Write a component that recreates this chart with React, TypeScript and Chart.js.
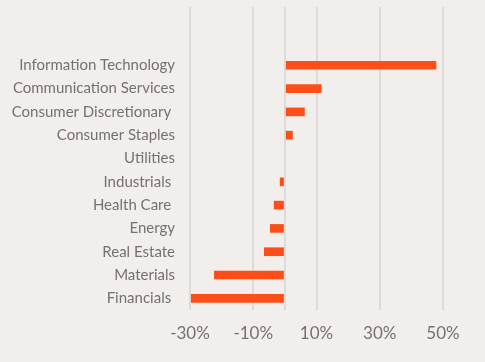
import { useEffect, useRef } from "react";
import { Chart, registerables } from "chart.js";

Chart.register(...registerables);

const categories = [
  "",
  "",
  "Information Technology",
  "Communication Services",
  "Consumer Discretionary ",
  "Consumer Staples",
  "Utilities",
  "Industrials ",
  "Health Care ",
  "Energy",
  "Real Estate",
  "Materials",
  "Financials ",
];
const returns: (number | null)[] = [null, null, 47.9, 11.6, 6.3, 2.5, 0, -1.6, -3.5, -4.7, -6.6, -22.4, -29.7];
const xTickValues = [-30, -10, 0, 10, 30, 50];
const xMin = -30;
const xMax = 50;

const BG = "#f1eeeb";
const TEXT = "#767171";
const FONT = "Lato";

export default function App() {
  const ref = useRef<HTMLCanvasElement | null>(null);

  useEffect(() => {
    document.body.style.margin = "0";
    document.body.style.background = BG;
    const canvas = ref.current;
    if (!canvas) return;
    const bgPlugin = {
      id: "bg",
      beforeDraw(chart: any) {
        const c = chart.ctx;
        c.save();
        c.fillStyle = BG;
        c.fillRect(0, 0, chart.width, chart.height);
        c.restore();
      },
    };
    const chart = new Chart(canvas, {
      type: "bar",
      data: {
        labels: categories,
        datasets: [
          {
            data: returns as any,
            backgroundColor: "#fd4e17",
            borderWidth: 0,
            categoryPercentage: 1,
            barPercentage: 0.37,
          },
        ],
      },
      options: {
        indexAxis: "y",
        animation: false,
        responsive: false,
        maintainAspectRatio: false,
        layout: { padding: { left: 0, right: 42, top: 7, bottom: 0 } },
        plugins: {
          legend: { display: false },
          tooltip: { enabled: false },
        },
        scales: {
          x: {
            type: "linear",
            min: xMin,
            max: xMax,
            afterBuildTicks: (scale: any) => {
              scale.ticks = xTickValues.map((v) => ({ value: v }));
            },
            afterFit: (scale: any) => {
              scale.height = 52;
              scale.paddingLeft = 0;
              scale.paddingRight = 0;
            },
            grid: { color: "#dddbd9", lineWidth: 2, drawTicks: false },
            border: { display: false },
            ticks: {
              padding: 13,
              color: TEXT,
              font: { family: FONT, size: 17 },
              callback: (v: any) => (Number(v) === 0 ? "" : `${v}%`),
            },
          },
          y: {
            type: "category",
            afterFit: (scale: any) => {
              scale.width = 190;
              scale.paddingTop = 0;
              scale.paddingBottom = 0;
            },
            grid: { display: false, drawTicks: false },
            border: { display: false },
            ticks: {
              padding: 15,
              color: TEXT,
              font: { family: FONT, size: 15 },
              autoSkip: false,
            },
          },
        },
      },
      plugins: [bgPlugin],
    });
    return () => chart.destroy();
  }, []);

  return (
    <div style={{ width: 485, height: 362 }}>
      <canvas ref={ref} width={485} height={362} />
    </div>
  );
}
